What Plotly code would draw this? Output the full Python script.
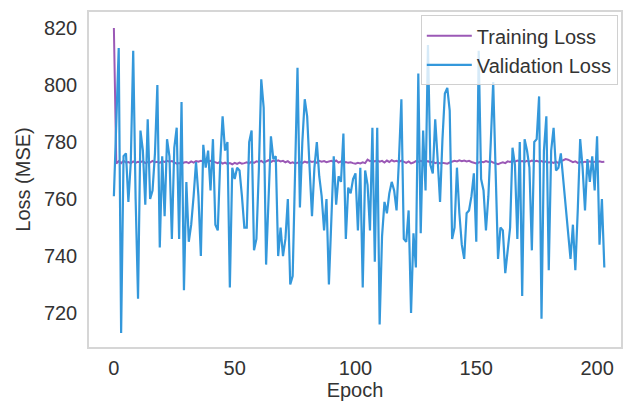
import plotly.graph_objects as go

# Per-epoch mean squared error
epochs = list(range(204))

training_loss = [
    820.0, 772.4, 773.3, 772.6, 773.4, 772.8, 773.0, 772.5, 773.2, 772.7,
    773.1, 772.9, 773.3, 772.6, 773.0, 772.8, 773.4, 772.9, 773.1, 772.7,
    773.3, 773.0, 773.4, 773.1, 773.3, 772.7, 772.4, 772.6, 772.3, 772.8,
    773.0, 772.6, 773.2, 772.8, 773.3, 773.1, 773.4, 773.2, 773.5, 773.1,
    773.4, 773.2, 773.0, 772.6, 773.1, 772.4, 772.8, 772.3, 772.6, 772.2,
    772.7, 772.3, 772.8, 772.4, 772.6, 772.9, 772.5, 773.1, 772.7, 773.2,
    773.0, 773.4, 772.8, 773.2, 773.6, 773.0, 773.5, 773.1, 773.6, 773.2,
    773.4, 772.9, 773.3, 772.6, 772.9, 772.5, 772.8, 773.0, 772.6, 773.1,
    772.8, 773.3, 773.0, 773.2, 772.7, 773.4, 773.1, 773.3, 772.9, 773.2,
    773.4, 773.0, 773.5, 772.8, 773.2, 772.6, 773.0, 772.7, 772.9, 772.6,
    772.4, 772.7, 772.5, 772.9, 772.6, 773.8, 773.3, 773.5, 773.2, 773.6,
    773.1, 773.4, 772.8, 773.5, 773.0, 773.6, 773.2, 773.4, 773.0, 773.5,
    773.1, 772.7, 773.2, 772.5, 772.8, 773.3, 773.0, 773.4, 773.1, 772.9,
    773.3, 772.8, 773.1, 772.6, 772.9, 772.5, 772.7, 772.6, 772.4, 772.8,
    773.0, 773.4, 773.2, 773.6, 773.3, 773.5, 773.2, 773.4, 773.0, 772.7,
    772.5, 772.8, 773.1, 772.9, 773.3, 773.0, 773.2, 772.8, 772.5, 772.2,
    772.6, 772.9, 772.6, 773.2, 773.0, 773.4, 773.1, 773.5, 773.2, 773.3,
    773.0, 773.4, 773.1, 773.5, 773.2, 773.4, 773.1, 773.3, 772.9, 773.2,
    772.8, 773.0, 772.7, 773.1, 772.6, 773.3, 773.6, 774.0, 773.8, 773.2,
    772.9, 773.2, 772.7, 773.0, 772.8, 773.1, 772.9, 773.2, 772.8, 773.1,
    772.9, 773.2, 773.0, 773.1,
]

validation_loss = [
    761, 790, 813, 713, 775, 776, 759, 773, 812, 760,
    725, 784, 777, 758, 788, 760, 763, 776, 800, 743,
    775, 754, 781, 775, 746, 778, 785, 746, 794, 728,
    766, 745, 751, 761, 773, 761, 740, 779, 771, 777,
    763, 781, 751, 749, 773, 789, 777, 780, 729, 771,
    767, 771, 770, 761, 750, 750, 780, 784, 742, 746,
    770, 802, 792, 737, 762, 782, 774, 775, 740, 750,
    740, 746, 760, 730, 733, 774, 806, 757, 780, 795,
    789, 771, 754, 771, 780, 768, 761, 749, 760, 730,
    754, 775, 758, 768, 766, 783, 746, 764, 762, 767,
    769, 749, 771, 729, 770, 765, 749, 785, 738, 785,
    716, 747, 759, 755, 762, 766, 763, 756, 774, 795,
    746, 745, 756, 720, 748, 736, 804, 748, 784, 763,
    814, 772, 769, 788, 774, 759, 781, 797, 799, 791,
    746, 750, 771, 755, 744, 739, 755, 756, 761, 769,
    745, 812, 767, 763, 749, 761, 780, 801, 770, 739,
    750, 749, 734, 742, 750, 778, 772, 746, 780, 726,
    781, 777, 771, 742, 780, 781, 796, 718, 777, 789,
    735, 777, 785, 770, 771, 776, 767, 757, 748, 739,
    751, 735, 756, 781, 771, 756, 774, 766, 775, 763,
    782, 744, 760, 736,
]

x_ticks = [0, 50, 100, 150, 200]
y_ticks = [720, 740, 760, 780, 800, 820]

TEXT = "#333333"
SPINE = "#d6d6d6"
FONT = "Liberation Sans, Arial, sans-serif"
SIZE = 20

fig = go.Figure()
fig.add_trace(go.Scatter(
    x=epochs, y=training_loss, mode="lines", name="Training Loss",
    line=dict(color="#9b59b6", width=2),
))
fig.add_trace(go.Scatter(
    x=epochs, y=validation_loss, mode="lines", name="Validation Loss",
    line=dict(color="#3498db", width=2.2),
))

axis_common = dict(
    showgrid=False, zeroline=False,
    showline=True, linecolor=SPINE, linewidth=1.5, mirror=True,
    ticks="", tickfont=dict(family=FONT, size=SIZE, color=TEXT),
)

fig.update_layout(
    width=626, height=405,
    margin=dict(l=89, r=3, t=12, b=58),
    paper_bgcolor="white", plot_bgcolor="white",
    font=dict(family=FONT, size=SIZE, color=TEXT),
    xaxis=dict(
        range=[-10.3, 209.9], tickvals=x_ticks, ticklabelstandoff=2,
        title=dict(text="Epoch", font=dict(family=FONT, size=SIZE, color=TEXT), standoff=0),
        **axis_common,
    ),
    yaxis=dict(
        range=[708.1, 825.6], tickvals=y_ticks, ticklabelstandoff=6,
        title=dict(text="Loss (MSE)", font=dict(family=FONT, size=SIZE, color=TEXT), standoff=8),
        **axis_common,
    ),
    legend=dict(
        x=0.994, y=0.99, xanchor="right", yanchor="top",
        bgcolor="rgba(255,255,255,0.8)", bordercolor="#d0d0d0", borderwidth=1,
        font=dict(family=FONT, size=SIZE, color=TEXT),
        itemwidth=45,
    ),
    showlegend=True,
)

fig.write_html("out.html")
